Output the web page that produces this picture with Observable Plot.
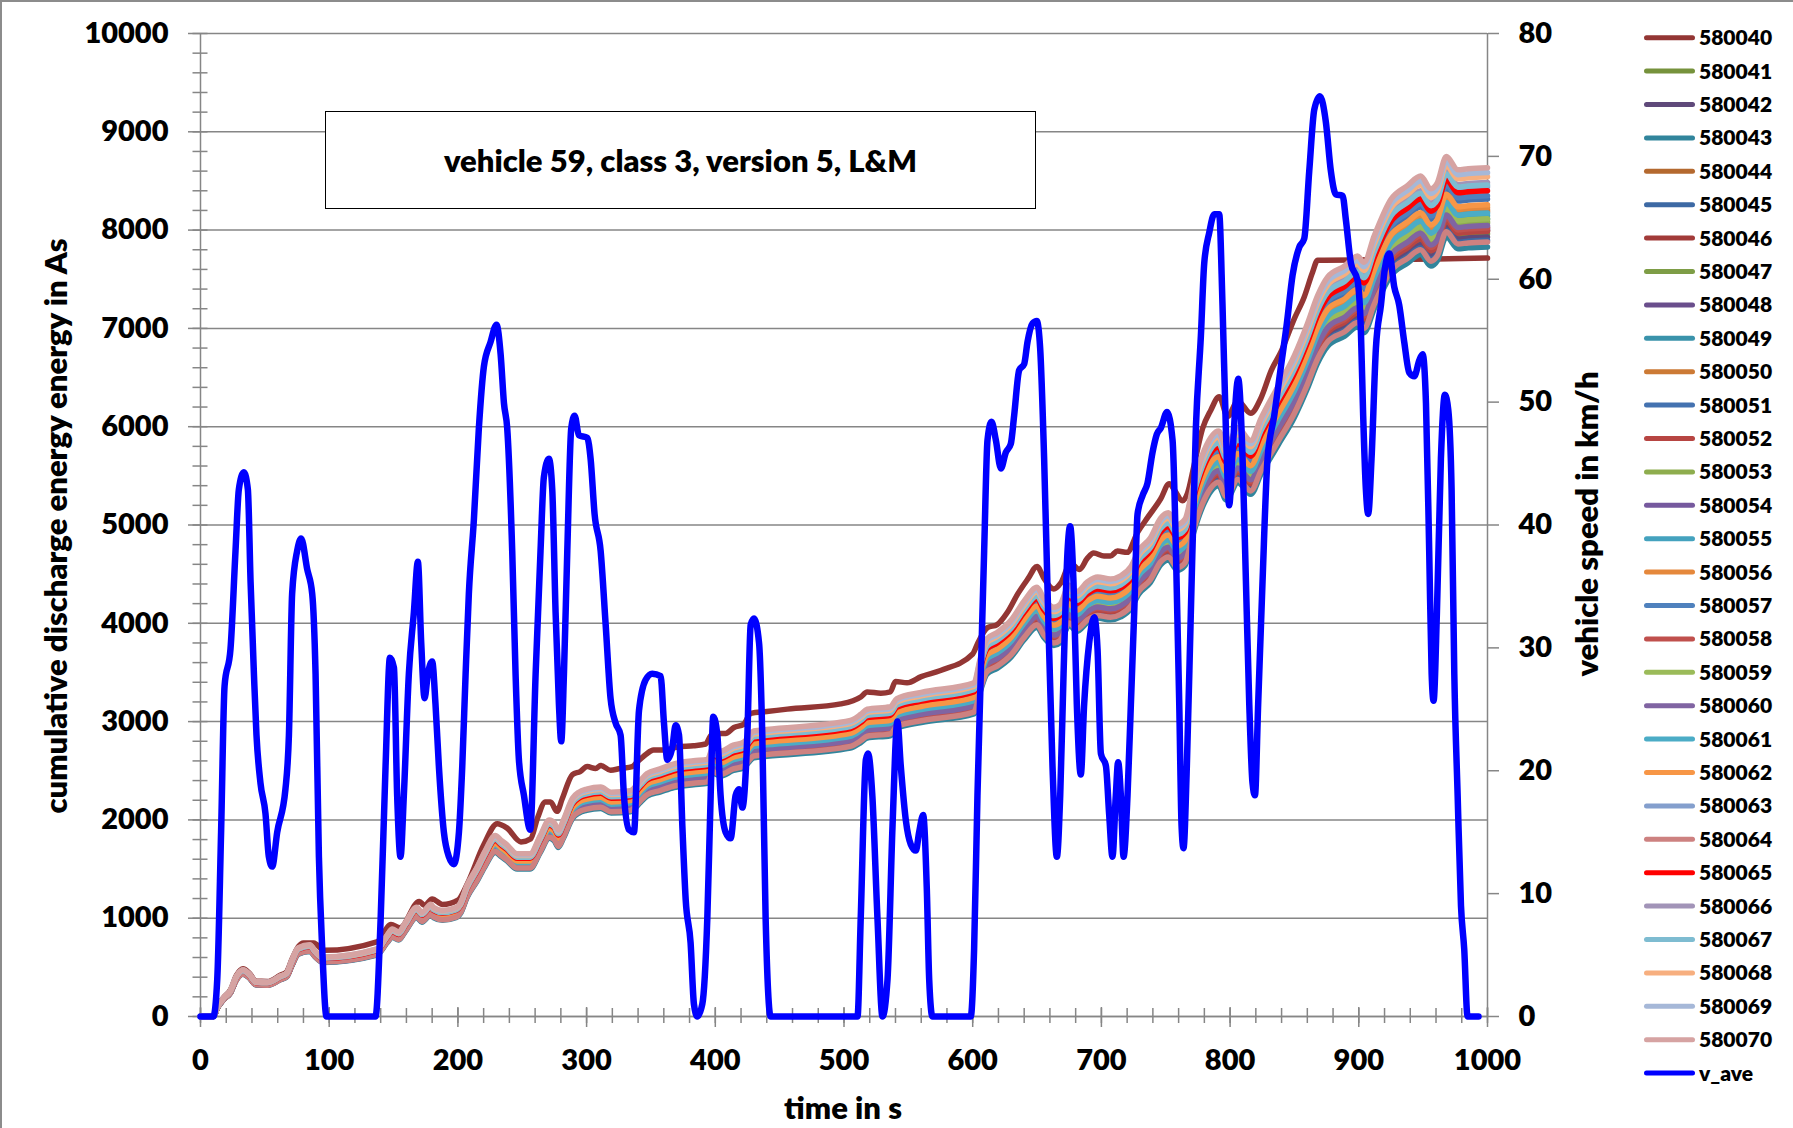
<!DOCTYPE html>
<html>
<head>
<meta charset="utf-8">
<script src="https://cdn.jsdelivr.net/npm/d3@7"></script>
<script src="https://cdn.jsdelivr.net/npm/@observablehq/plot@0.6"></script>
<style>
  body { margin: 0; background: #fff; }
  #wrap { position: relative; width: 1793px; height: 1128px; overflow: hidden; background: #fff;
          font-family: Lato, "Open Sans", sans-serif; font-weight: 800; color: #000; }
  #chart { position: absolute; left: 0; top: 0; }
  #pageBorder { position: absolute; left: 0; top: 0; width: 1793px; height: 1128px; box-sizing: border-box;
                border-left: 2px solid #8c8c8c; border-top: 2px solid #8c8c8c; pointer-events: none; }
  #titlebox { position: absolute; left: 325px; top: 111px; width: 711px; height: 98px; box-sizing: border-box;
              border: 1.5px solid #000; background: #fff; display: flex; align-items: center; justify-content: center;
              font-size: 31px; white-space: nowrap; }
  .atitle { position: absolute; white-space: nowrap; font-size: 31px; line-height: 1; }
</style>
</head>
<body>
<div id="wrap">
  <div id="chart"></div>
</div>
<script>
// ---------------- data ----------------
const seriesNames = ["580040","580041","580042","580043","580044","580045","580046","580047","580048","580049",
  "580050","580051","580052","580053","580054","580055","580056","580057","580058","580059",
  "580060","580061","580062","580063","580064","580065","580066","580067","580068","580069","580070"];
const seriesColors = ["#933634","#76923C","#5F497A","#31859C","#B4692F","#3D69A4","#A23B39","#7E9D46","#6A4E8C","#3A93AB",
  "#CC7A35","#4472B0","#B74542","#8EAD4E","#76599E","#44A2BE","#E5883C","#4F81BD","#C0504D","#9BBB59",
  "#8064A2","#4BACC6","#F79646","#849FCD","#CD8180","#FF0000","#A294B8","#7EBCD1","#F7AF7F","#A6B8D8","#D6A3A2"];
const speedName = "v_ave";
const speedColor = "#0000FF";

// series 580040 (read separately: it differs in shape)
const energy580040 = [[0,0],[10,0],[13,95],[18,195],[23,265],[28,420],[33,485],[38,440],[43,360],[52,355],
  [62,420],[67,455],[71,580],[76,710],[80,748],[88,748],[96,673],[137,760],[148,935],[155,903],
  [170,1171],[174,1130],[180,1196],[188,1140],[200,1184],[207,1340],[220,1744],[230.6,1962],[238,1919],[249,1776],
  [256.5,1807],[262,2025],[268,2181],[272,2181],[277,2087],[281,2212],[289,2461],[295,2492],[300.5,2542],[307,2523],
  [311,2554],[318.6,2505],[326,2523],[335.5,2542],[339,2585],[346,2666],[352,2710],[360,2710],[370.5,2741],[383,2754],
  [392.5,2772],[397,2866],[401.6,2878],[408,2878],[414.5,2940],[422,2972],[427.5,3084],[440,3102],[456,3127],[497.5,3180],
  [513,3250],[518,3302],[528.6,3289],[536,3302],[540,3408],[549,3395],[560,3458],[575,3520],[600,3688],[604,3800],
  [611.5,3956],[619,3987],[627,4112],[635,4299],[643,4454],[650,4579],[655.5,4454],[663,4349],[668.5,4411],[676,4610],
  [683,4548],[689,4660],[694,4716],[702,4685],[707,4685],[712.5,4735],[720,4722],[728,4922],[736,5077],[746,5264],
  [752.7,5420],[756.6,5358],[763,5246],[767,5327],[772,5607],[778.6,5981],[785,6168],[791.5,6305],[798,6105],[806,6261],
  [816,6137],[824,6292],[832,6573],[839.5,6760],[850,7102],[857.6,7320],[864,7569],[868,7694],[873,7694],[1000,7715]];

// reference curve of the main bundle
const energyBundle = [[0,0],[10,0],[13,90],[18,185],[23,250],[28,400],[33,462],[38,420],[43,345],[52,340],
  [62,400],[67,432],[71,555],[76,680],[85,710],[89,650],[95,590],[137,670],[145,805],[149,865],
  [154,835],[159,925],[168,1080],[172,1030],[179,1110],[181,1080],[188,1050],[199,1080],[202,1125],[207,1295],
  [215,1480],[221,1635],[229,1790],[234,1740],[238,1700],[246,1610],[256,1610],[264,1790],[271,1945],[275,1915],
  [278,1845],[282,1945],[289,2160],[294,2220],[300,2250],[311,2270],[319,2220],[334,2235],[342,2340],[347,2405],
  [357,2450],[368,2500],[383,2530],[394,2545],[398,2655],[404,2625],[414,2685],[422,2715],[430,2825],[440,2840],
  [505,2930],[513,2990],[518,3040],[536,3065],[541,3146],[560,3208],[601,3302],[606,3551],[611,3738],[619,3800],
  [630,3925],[640,4112],[650,4249],[655,4143],[663,4050],[668,4081],[675,4268],[681,4205],[689,4299],[697,4349],
  [707,4330],[715,4361],[723,4454],[729,4610],[738,4735],[746,4930],[752,4984],[759,4870],[765,4922],[772,5296],
  [780,5607],[791,5794],[797,5638],[806,5825],[816,5700],[824,5919],[837,6230],[850,6542],[860,6853],[868,7133],
  [876,7320],[889,7426],[899,7526],[904,7463],[912,7725],[925,8087],[938,8224],[948,8317],[956,8192],[961,8250],
  [968,8510],[977,8379],[985,8390],[1000,8400]];

// relative level of each of 580041..580070 against the reference curve (read from the spread at the right end)
const bundleLevels = [0.948,0.944,0.932,0.975,0.940,0.952,0.961,0.953,0.966,
  0.977,0.990,0.951,0.963,0.956,0.970,0.980,0.994,0.955,0.966,
  0.958,0.973,0.983,1.005,0.938,1.000,1.010,1.007,1.017,1.022,1.028];

// vehicle speed v_ave [time s, km/h]
const speedPoints = [[0,0],[10,0],[13,3],[16,15],[18.7,26.9],[23.3,29.9],[27.2,37.9],[29.8,42.9],[33.7,44.3],[36.8,42.9],
  [38.9,35.4],[41.5,27.9],[43.5,22.9],[46.6,19],[50.5,16.5],[53.1,13],[55.7,12.2],[59.6,15],[66,18.5],[68.7,22.9],
  [71.2,34.4],[75.1,37.9],[78.2,38.9],[82.9,36.4],[86.8,34.4],[89.4,27.9],[92,13],[94.6,5.5],[97.9,0],[136,0],
  [140,8],[143.8,20.4],[147.2,29.2],[150.3,28.4],[152.8,18],[155.4,13],[158,18],[161.9,27.9],[165.8,32.9],[168.9,37],
  [171.5,30.4],[174.1,25.9],[176.7,27.9],[180,28.9],[182.6,25.4],[185.2,20.4],[189.1,15],[193,13],[196.9,12.4],[200.8,15],
  [203.4,20.4],[206,27.9],[208.5,34.4],[212.4,40.4],[216.3,47.9],[220.2,52.9],[225.4,54.9],[230,56.3],[233.2,53.9],[235.8,49.9],
  [238.3,47.9],[242.2,37.9],[244.8,27.9],[247.4,20.9],[251.3,18],[256.2,15.2],[260.4,27.9],[264.2,37.9],[266.8,43.9],[270.7,45.4],
  [273.3,42.9],[275.9,32.9],[278.5,25.4],[280.3,22.4],[282.4,27.9],[285,37.9],[288.1,47.9],[290.7,48.9],[294,47.3],[300.5,47.1],
  [303.1,45.4],[306.2,40.9],[310.9,37.9],[314.8,31.9],[318.6,25.9],[322.5,23.9],[326.4,22.9],[329,18],[332.9,15.2],[336.8,15],
  [340.7,24.9],[345.9,27.4],[351,27.9],[357.5,27.7],[360.1,23.9],[362.7,20.9],[366.6,21.9],[369.2,23.7],[371.8,22.9],[374.4,15.5],
  [377,9.5],[380.8,6],[383.4,1],[386,0],[389.9,1],[393.8,8],[396.4,18],[398.4,24.4],[401.6,22.9],[404.1,18],
  [408,15],[411.9,14.5],[415.8,18],[418.4,18.5],[421,17],[424.9,22.9],[427.5,31.9],[430.1,32.4],[434,30.4],[436.5,22.9],
  [439.1,8],[443,0],[510.5,0],[513,8],[517,20.9],[518.7,21.4],[522,18],[526,8],[529.9,0],[533.8,3],
  [537.7,15.5],[541.5,24],[544.1,20.4],[548,16],[551.9,14],[555.8,13.5],[558.4,15],[561.5,16.4],[564.3,10.5],[566.2,3],
  [568.7,0],[598.5,0],[601.1,5.5],[603.7,18],[606.3,27.9],[608.9,37.9],[611.5,46.9],[614.6,48.4],[618,46.9],[621.9,44.6],
  [625.7,45.9],[629.6,46.6],[632.2,48.9],[636.1,52.6],[640,53.1],[642.6,54.9],[646.5,56.4],[649.8,56.6],[652.4,54.4],[655.5,45.4],
  [658.6,32.9],[662,20.4],[665.4,13],[668,18],[670.6,27.9],[673.7,37.9],[675.7,39.9],[678.3,35.4],[680.9,25.4],[684,19.7],
  [686.6,25.4],[690.5,30.4],[694.4,32.5],[697,29.9],[699.6,21.4],[703.5,20.4],[706,16.5],[708.6,13],[711.2,18],[713,20.7],
  [715.1,18],[717.2,13],[720.3,18],[722.9,25.4],[725.5,32.9],[728.1,40.9],[732,42.4],[735.8,43.4],[739.7,45.9],[743.1,47.4],
  [746.2,47.9],[751,49.2],[755.3,46.9],[757.9,37.9],[760.5,25.4],[762.3,15.5],[763.8,13.7],[766.4,20.4],[769.5,32.9],[773.4,47.9],
  [777.3,55.4],[779.9,61.3],[783.8,63.8],[787.7,65.3],[791.5,65.3],[794.1,57.9],[796.7,47.9],[799.3,41.6],[801.9,45.9],[806.3,51.9],
  [809.7,45.4],[812.3,35.4],[814.9,25.4],[817.4,19],[819.3,18],[821.8,25.4],[825.2,35.4],[829.1,45.4],[834.3,48.9],[839.5,52.9],
  [844.1,56.4],[848.5,60.3],[853.7,62.6],[857.6,63.3],[861.5,68.8],[865.4,73.8],[869.8,74.9],[874.4,72.8],[878.3,68.8],[882.2,66.9],
  [887.4,66.8],[890,64.8],[893.9,61.3],[899,59.9],[901.6,55.9],[903.4,48.9],[905.5,42.9],[907.3,40.9],[909.9,45.4],[913.3,54.4],
  [917.2,57.9],[920.3,60.9],[923.7,62.1],[927.5,59.4],[931.4,57.9],[935.3,54.9],[939.2,52.4],[943.1,52.1],[947,53.4],[949.6,53.9],
  [952.2,49.9],[954.7,37.9],[956.6,27.9],[958.1,25.7],[960.7,32.9],[963.8,45.4],[966.9,50.6],[969.5,49.4],[972.1,42.9],[974.2,27.9],
  [976.8,18],[979.4,9],[981.9,5.5],[984.5,0],[993,0]];

// axis ticks
const energyTicks = [0,1000,2000,3000,4000,5000,6000,7000,8000,9000,10000];
const energyMinorTicks = d3.range(0, 10001, 200);
const timeTicks = [0,100,200,300,400,500,600,700,800,900,1000];
const timeMinorTicks = d3.range(0, 1001, 20);
const speedTicks = [0,10,20,30,40,50,60,70,80];

const chartTitle = "vehicle 59, class 3, version 5, L&M";
const yTitle = "cumulative discharge energy energy in As";
const y2Title = "vehicle speed in km/h";
const xTitle = "time in s";

// ---------------- build tables ----------------
const energyRows = [];
energy580040.forEach(([t, e]) => energyRows.push({series: seriesNames[0], t, e}));
bundleLevels.forEach((k, s) => energyBundle.forEach(([t, e]) => energyRows.push({series: seriesNames[s + 1], t, e: e * k})));
const speedRows = speedPoints.map(([t, v]) => ({t, v}));
const K = 10000 / 80; // speed axis -> energy axis

const axisGray = "#868686";
const chart = Plot.plot({
  width: 1793, height: 1128,
  marginLeft: 200, marginRight: 306, marginTop: 33, marginBottom: 112,
  style: {fontFamily: "Lato", fontSize: "29px", fontWeight: "800", color: "#000", background: "white"},
  x: {domain: [0, 1000]},
  y: {domain: [0, 10000]},
  color: {domain: seriesNames, range: seriesColors},
  marks: [
    Plot.gridY(energyTicks, {stroke: axisGray, strokeOpacity: 1, strokeWidth: 1.5}),
    Plot.axisY(energyMinorTicks, {tickSize: 15, dx: 7.5, stroke: axisGray, strokeWidth: 1.5, fill: "none", label: null}),
    Plot.axisY(energyTicks, {tickSize: 12, tickPadding: 20, stroke: axisGray, strokeWidth: 1.5, label: null, tickFormat: d => String(d)}),
    Plot.axisX(timeMinorTicks, {tickSize: 15, dy: -8, stroke: axisGray, strokeWidth: 1.5, fill: "none", label: null}),
    Plot.axisX(timeTicks, {tickSize: 20, dy: -9, stroke: axisGray, strokeWidth: 1.5, fill: "none", label: null}),
    Plot.axisX(timeTicks, {tickSize: 0, tickPadding: 33, label: null, tickFormat: d => String(d)}),
    Plot.axisY(speedTicks, {anchor: "right", y: d => d * K, tickSize: 11, tickPadding: 20, stroke: axisGray, strokeWidth: 1.5, label: null, tickFormat: d => String(d)}),
    Plot.ruleX([0], {stroke: axisGray, strokeWidth: 1.5}),
    Plot.ruleX([1000], {stroke: axisGray, strokeWidth: 1.5}),
    Plot.ruleY([0], {stroke: axisGray, strokeWidth: 1.5}),
    Plot.line(energyRows, {x: "t", y: "e", z: "series", stroke: "series", strokeWidth: 5.5, curve: "monotone-x"}),
    Plot.line(speedRows, {x: "t", y: d => d.v * K, stroke: speedColor, strokeWidth: 6.5, curve: "monotone-x"})
  ]
});
document.getElementById("chart").append(chart);

const wrap = d3.select("#wrap");
wrap.append("div").attr("id", "titlebox").text(chartTitle);
wrap.append("div").attr("class", "atitle")
  .style("left", "55px").style("top", "526px")
  .style("transform", "translate(-50%,-50%) rotate(-90deg)").text(yTitle);
wrap.append("div").attr("class", "atitle")
  .style("left", "1586px").style("top", "524px")
  .style("transform", "translate(-50%,-50%) rotate(-90deg)").text(y2Title);
wrap.append("div").attr("class", "atitle")
  .style("left", "843px").style("top", "1107px")
  .style("transform", "translate(-50%,-50%)").text(xTitle);

// legend
const legendItems = seriesNames.map((n, i) => ({name: n, color: seriesColors[i]}))
  .concat([{name: speedName, color: speedColor}]);
const leg = wrap.append("svg").attr("width", 1793).attr("height", 1128)
  .style("position", "absolute").style("left", 0).style("top", 0).style("pointer-events", "none");
const item = leg.selectAll("g").data(legendItems).join("g")
  .attr("transform", (d, i) => `translate(0,${37.7 + i * 33.4})`);
item.append("line").attr("x1", 1646.5).attr("x2", 1692.5)
  .attr("stroke", d => d.color).attr("stroke-width", 5).attr("stroke-linecap", "round");
item.append("text").attr("x", 1699).attr("dy", "0.36em")
  .style("font", "800 21px Lato").attr("fill", "#000").text(d => d.name);

wrap.append("div").attr("id", "pageBorder");
</script>
</body>
</html>
